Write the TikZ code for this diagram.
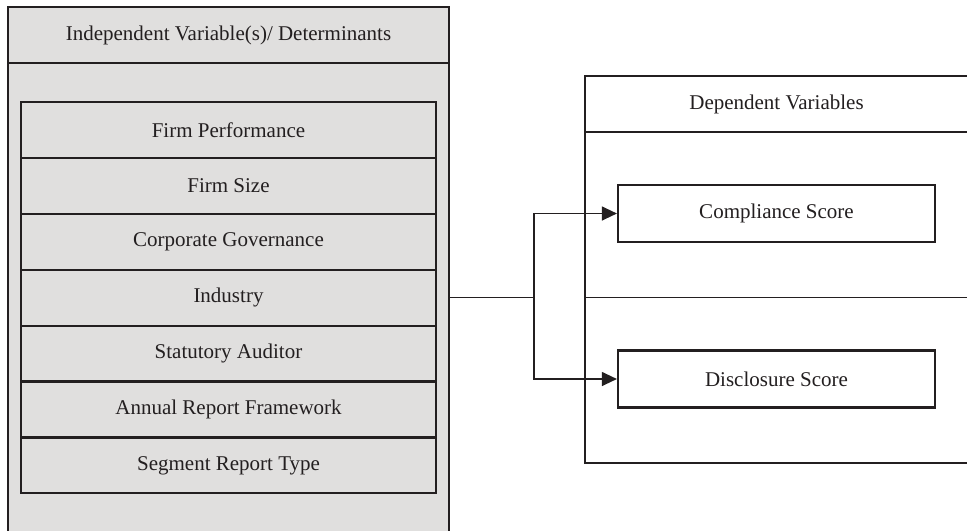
\documentclass[tikz,border=0pt]{standalone}
\usepackage{fontspec}
\setmainfont{Liberation Serif}
\usetikzlibrary{arrows.meta, positioning}
\definecolor{ink}{HTML}{231F20}
\definecolor{panel}{HTML}{E0DFDE}

\begin{document}
\begin{tikzpicture}[x=0.5pt, y=-0.5pt, >={Triangle[length=7.5pt, width=7pt]}, font=\fontsize{10.5}{12}\selectfont]
    \tikzstyle{frame} = [rectangle, draw=ink, line width=1.4pt, outer sep=0pt, text=ink, minimum width=220.5pt]
    \tikzstyle{row} = [rectangle, draw=ink, fill=panel, line width=1.1pt, outer sep=0pt, minimum width=207.5pt, minimum height=27.95pt, text=ink]
    \tikzstyle{score} = [rectangle, draw=ink, fill=white, line width=1.1pt, minimum width=158.5pt, minimum height=28.5pt, text=ink]
    \tikzstyle{link} = [draw=ink, line width=0.6pt]

    \useasboundingbox (0,0) rectangle (967,530);

    % left panel: determinants
    \node [frame, fill=panel, anchor=north west, minimum height=28pt] (ivhead) at (8,7) {Independent Variable(s)/ Determinants};
    \node [frame, fill=panel, anchor=north, minimum height=245pt] (ivbody) at (ivhead.south) {};

    \node [row, anchor=north west] (perf) at (21,102) {Firm Performance};
    \node [row, below=0pt of perf] (size) {Firm Size};
    \node [row, below=0pt of size] (gov) {Corporate Governance};
    \node [row, below=0pt of gov] (ind) {Industry};
    \node [row, below=0pt of ind] (aud) {Statutory Auditor};
    \node [row, below=0pt of aud] (frm) {Annual Report Framework};
    \node [row, below=0pt of frm] (seg) {Segment Report Type};

    % right panel: dependent variables
    \node [frame, fill=white, anchor=north west, minimum width=191.5pt, minimum height=28pt] (dvhead) at (585,76) {Dependent Variables};
    \node [frame, fill=white, anchor=north, minimum width=191.5pt, minimum height=165.5pt] (dvbody) at (dvhead.south) {};
    \draw [link] (dvbody.west) -- (dvbody.east);

    \node [score] (comp) at (776.5,213.5) {Compliance Score};
    \node [score] (disc) at (776.5,379) {Disclosure Score};

    % connector with a fork
    \coordinate (fork) at (534,297.5);
    \draw [link] (ivbody.east |- fork) -- (fork);
    \draw [link, ->] (fork) |- (comp.west);
    \draw [link, ->] (fork) |- (disc.west);
\end{tikzpicture}
\end{document}
